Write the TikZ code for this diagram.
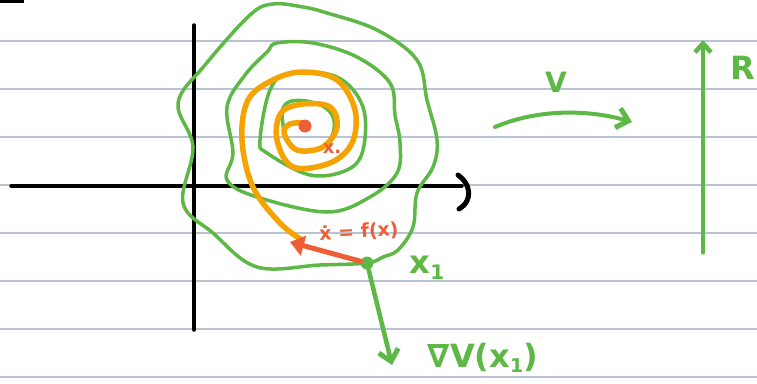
\documentclass[tikz,border=0pt]{standalone}
\usepackage{fontspec}
\setmainfont{DejaVu Sans}
\usetikzlibrary{arrows.meta}
\definecolor{rule}{HTML}{B8C4D6}
\definecolor{pgreen}{HTML}{5DB845}
\definecolor{pred}{HTML}{EE5F38}
\definecolor{porange}{HTML}{F5A300}
\tikzset{
  ruled/.style={rule, line width=2pt},
  axis/.style={black, line width=3.5pt, line cap=round},
  contour/.style={pgreen, line width=3.5pt, line cap=round, line join=round},
  traj/.style={porange, line width=5.5pt, line cap=round, line join=round},
  garrow/.style={pgreen, line width=4.5pt, line cap=round, -{Straight Barb[length=11pt,width=20pt,line width=5pt]}},
  rarrow/.style={pred, line width=5pt, line cap=round, -{Triangle[length=14pt,width=20pt]}},
  glabel/.style={pgreen, inner sep=0pt, font=\bfseries},
  rlabel/.style={pred, inner sep=0pt, font=\bfseries}
}
\begin{document}
\begin{tikzpicture}[x=1pt,y=-1pt]
\useasboundingbox (0,0) rectangle (757,383);
\fill[white] (0,0) rectangle (757,383);
% ruled lines
\foreach \yy in {41,89,137,185,233,281,329,377}
  \draw[ruled] (0,\yy) -- (757,\yy);
% top-left mark
\draw[black, line width=3pt] (0,1.5) -- (24,1.5);
% axes
\coordinate (hl) at (11,186);
\coordinate (hr) at (462,186);
\coordinate (vt) at (194,25);
\coordinate (vb) at (194,330);
\draw[axis] (hl) -- (hr);
\draw[axis] (vt) -- (vb);
\draw[axis, line width=5pt] (458,175) .. controls (470,183) and (474,200) .. (459,209);
% outer contour
\draw[contour] plot[smooth cycle, tension=0.6] coordinates {
 (273,4) (303,7) (327,13) (377,30) (417,60) (427,100) (437,140) (433,167)
 (417,193) (413,227) (398,250) (383,257) (367,263) (320,265) (257,267)
 (213,233) (183,203) (193,147) (178,103) (205,65) (250,15)};
% middle contour
\draw[contour] plot[smooth cycle, tension=0.6] coordinates {
 (277,43) (313,43) (357,57) (390,83) (395,115) (400,143) (397,173) (370,197)
 (327,212) (257,197) (227,180) (233,153) (227,107) (245,75) (267,52)};
% inner contour
\draw[contour] plot[smooth cycle, tension=0.6] coordinates {
 (290,73) (337,77) (363,107) (363,150) (347,170) (310,175) (267,153)
 (260,140) (270,90)};
% innermost contour
\draw[contour] plot[smooth cycle, tension=0.7] coordinates {
 (287,103) (315,103) (333,117) (330,140) (313,150) (293,147) (283,125)};
% orange trajectory
\draw[traj] plot[smooth, tension=0.6] coordinates {
 (302,240) (280,223) (253,187) (242,140) (248,100) (273,80) (303,72)
 (337,80) (355,110) (352,143) (330,163) (293,167) (277,140) (281,113)
 (303,104) (330,107) (337,127) (323,147) (297,150) (284,133) (290,124) (302,123)};
% equilibrium
\node[circle, fill=pred, inner sep=0pt, minimum size=13pt] (xeq) at (305,126) {};
\node[rlabel, font=\bfseries\fontsize{18}{18}\selectfont] (xeqlab) at (332,149) {x.};
% point x1
\node[circle, fill=pgreen, inner sep=0pt, minimum size=13pt] (x1) at (367,263) {};
\coordinate (fend) at (290,242);
\coordinate (gend) at (392,365);
\draw[rarrow] (x1) -- (fend);
\draw[garrow] (x1) -- (gend);
\node[rlabel, font=\bfseries\fontsize{19}{19}\selectfont, rotate=3] (flab) at (359,232) {ẋ = f(x)};
\node[glabel, font=\bfseries\fontsize{32}{32}\selectfont] (x1lab) at (427,268) {x\raisebox{-6pt}{\fontsize{20}{20}\selectfont 1}};
\node[glabel, font=\bfseries\fontsize{32}{32}\selectfont] (gradlab) at (483,358) {∇V(x\raisebox{-5pt}{\fontsize{19}{19}\selectfont 1})};
% V map
\node[glabel, font=\bfseries\fontsize{28}{28}\selectfont] (vlab) at (556,82) {V};
\coordinate (va) at (495,127);
\coordinate (vb2) at (632,122);
\draw[garrow, line width=4pt] (va) .. controls (540,108) and (590,110) .. (vb2);
% R axis
\coordinate (rb) at (703,253);
\coordinate (rt) at (703,40);
\draw[pgreen, line width=3.2pt, line cap=round, -{Straight Barb[length=9pt,width=16pt,line width=4.5pt]}] (rb) -- (rt);
\node[glabel, font=\bfseries\fontsize{32}{32}\selectfont, anchor=west] (rlab) at (730,68) {R};
\end{tikzpicture}
\end{document}
